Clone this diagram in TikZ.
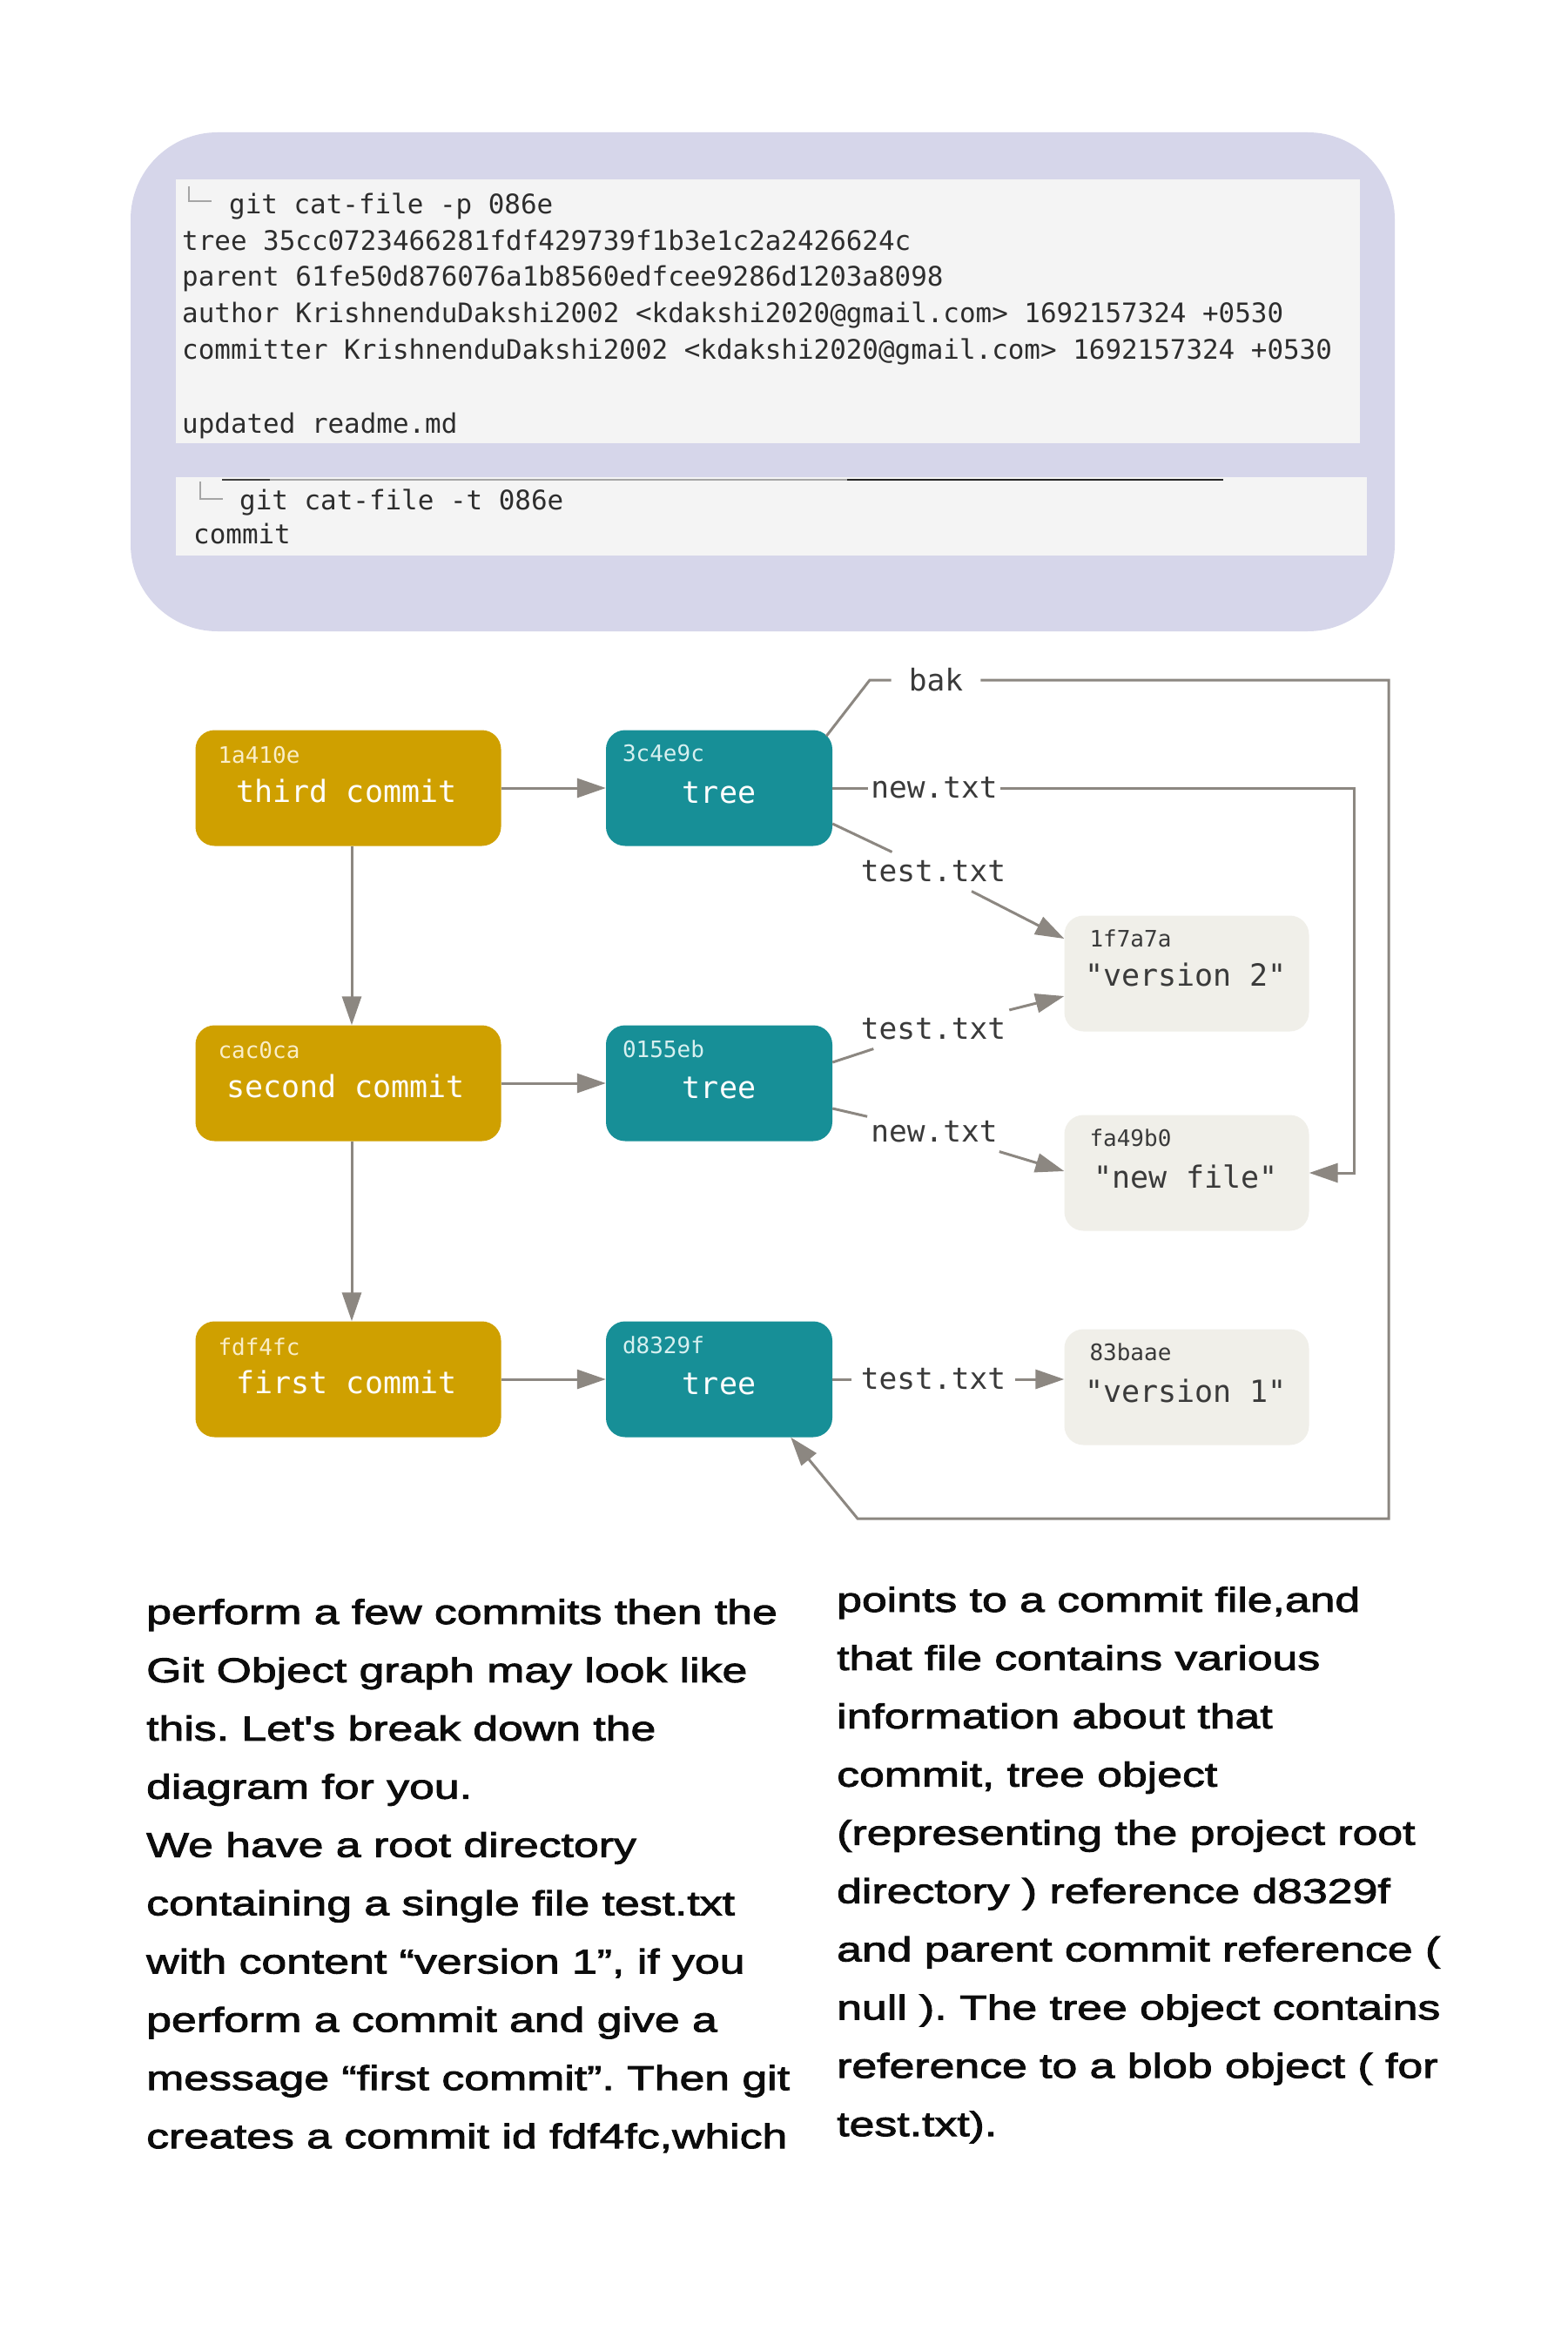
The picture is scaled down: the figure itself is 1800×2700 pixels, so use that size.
\documentclass[tikz,border=0pt]{standalone}
\usepackage{fontspec}
\usetikzlibrary{arrows.meta,calc}
\newfontfamily\codefont{DejaVu Sans Mono}
\newfontfamily\bodyfont[FakeStretch=1.31,FakeBold=2.4]{Liberation Sans}
\definecolor{lav}{RGB}{214,214,234}
\definecolor{panelbg}{RGB}{244,244,244}
\definecolor{codetxt}{RGB}{45,45,45}
\definecolor{cornergray}{RGB}{165,165,165}
\definecolor{gitgold}{RGB}{207,160,0}
\definecolor{gitteal}{RGB}{23,143,151}
\definecolor{blobfill}{RGB}{240,239,233}
\definecolor{linkgray}{RGB}{140,135,129}
\definecolor{labeltxt}{RGB}{58,58,58}
\definecolor{goldhash}{RGB}{250,238,200}
\definecolor{tealhash}{RGB}{215,240,240}
\definecolor{bodytxt}{RGB}{12,12,12}
\tikzset{
  objbox/.style={rounded corners=22pt, minimum height=133pt, inner sep=0pt, draw=none},
  commitbox/.style={objbox, fill=gitgold, minimum width=351pt},
  treebox/.style={objbox, fill=gitteal, minimum width=260pt},
  blobbox/.style={objbox, fill=blobfill, minimum width=281pt},
  hashtxt/.style={anchor=west, inner sep=0pt, font=\codefont\fontsize{26}{30}\selectfont},
  maintxt/.style={inner sep=0pt, font=\codefont\fontsize{35}{40}\selectfont},
  link/.style={draw=linkgray, line width=3pt},
  arr/.style={link, -{Triangle[length=33pt,width=22pt]}},
  lbl/.style={font=\codefont\fontsize{34.5}{40}\selectfont, text=labeltxt, inner xsep=4pt, inner ysep=10pt},
  codeline/.style={anchor=base west, inner sep=0pt, text=codetxt, font=\codefont\fontsize{30.9}{42}\selectfont},
  corner/.style={draw=cornergray, line width=2pt},
  bodyline/.style={anchor=base west, inner sep=0pt, text=bodytxt, font=\bodyfont\frenchspacing\fontsize{39.5}{67}\selectfont}
}
\begin{document}
\begin{tikzpicture}[x=1pt,y=-1pt]
\useasboundingbox (0,0) rectangle (1800,2700);
\fill[white] (0,0) rectangle (1800,2700);

% terminal screenshot
\fill[lav, rounded corners=100pt] (150,152) rectangle (1602,725);
\fill[panelbg] (202,206) rectangle (1562,509);
\fill[panelbg] (202,548) rectangle (1570,638);
\draw[line width=2pt, black!35] (255,551) -- (973,551);
\draw[line width=2.5pt, black!75] (255,551) -- (310,551);
\draw[line width=2.5pt, black!85] (973,551) -- (1405,551);

\draw[corner] (217,214) -- (217,231) -- (243,231);
\node[codeline] (p1) at (263,245) {git cat-file -p 086e};
\node[codeline] (p2) at (209,287) {tree 35cc0723466281fdf429739f1b3e1c2a2426624c};
\node[codeline] (p3) at (209,328.7) {parent 61fe50d876076a1b8560edfcee9286d1203a8098};
\node[codeline] (p4) at (209,370.4) {author KrishnenduDakshi2002 <kdakshi2020@gmail.com> 1692157324 +0530};
\node[codeline] (p5) at (209,412.1) {committer KrishnenduDakshi2002 <kdakshi2020@gmail.com> 1692157324 +0530};
\node[codeline] (p7) at (209,497) {updated readme.md};
\draw[corner] (230,553) -- (230,573) -- (256,573);
\node[codeline] (q1) at (275,585) {git cat-file -t 086e};
\node[codeline] (q2) at (222,624.5) {commit};

% object boxes
\node[commitbox] (c3) at (400,905) {};
\node[commitbox] (c2) at (400,1244) {};
\node[commitbox] (c1) at (400,1584) {};
\node[treebox] (t3) at (826,905) {};
\node[treebox] (t2) at (826,1244) {};
\node[treebox] (t1) at (826,1584) {};
\node[blobbox] (b1) at (1363,1118) {};
\node[blobbox] (b2) at (1363,1347) {};
\node[blobbox] (b3) at (1363,1593) {};

\node[hashtxt, text=goldhash] (hc3) at ($(c3.north west)+(26,29)$) {1a410e};
\node[hashtxt, text=goldhash] (hc2) at ($(c2.north west)+(26,29)$) {cac0ca};
\node[hashtxt, text=goldhash] (hc1) at ($(c1.north west)+(26,29)$) {fdf4fc};
\node[maintxt, text=white] (mc3) at ($(c3.center)+(-2,3)$) {third commit};
\node[maintxt, text=white] (mc2) at ($(c2.center)+(-3,3)$) {second commit};
\node[maintxt, text=white] (mc1) at ($(c1.center)+(-2,3)$) {first commit};

\node[hashtxt, text=tealhash] (ht3) at ($(t3.north west)+(19,27)$) {3c4e9c};
\node[hashtxt, text=tealhash] (ht2) at ($(t2.north west)+(19,27)$) {0155eb};
\node[hashtxt, text=tealhash] (ht1) at ($(t1.north west)+(19,27)$) {d8329f};
\node[maintxt, text=white] (mt3) at ($(t3.center)+(0,5)$) {tree};
\node[maintxt, text=white] (mt2) at ($(t2.center)+(0,5)$) {tree};
\node[maintxt, text=white] (mt1) at ($(t1.center)+(0,5)$) {tree};

\node[hashtxt, text=labeltxt] (hb1) at ($(b1.north west)+(29,26)$) {1f7a7a};
\node[hashtxt, text=labeltxt] (hb2) at ($(b2.north west)+(29,26)$) {fa49b0};
\node[hashtxt, text=labeltxt] (hb3) at ($(b3.north west)+(29,26)$) {83baae};
\node[maintxt, text=labeltxt] (mb1) at ($(b1.center)+(-1,1)$) {"version 2"};
\node[maintxt, text=labeltxt] (mb2) at ($(b2.center)+(-1,4)$) {"new file"};
\node[maintxt, text=labeltxt] (mb3) at ($(b3.center)+(-1,4)$) {"version 1"};

% edge labels
\node[lbl, inner xsep=20pt] (lbak) at (1075,781) {bak};
\node[lbl, inner xsep=3pt] (lnew3) at (1073,905) {new.txt};
\node[lbl] (ltest3) at (1072,1001) {test.txt};
\node[lbl] (ltest2) at (1072,1182) {test.txt};
\node[lbl] (lnew2) at (1073,1300) {new.txt};
\node[lbl, inner xsep=11pt] (ltest1) at (1072,1584) {test.txt};

% connectors
\draw[arr] (c3) -- (t3);
\draw[arr] (c2) -- (t2);
\draw[arr] (c1) -- (t1);
\draw[arr] ([xshift=4pt]c3.south) -- ([xshift=4pt]c2.north);
\draw[arr] ([xshift=4pt]c2.south) -- ([xshift=4pt]c1.north);

\coordinate (bakbend) at (999,781);
\coordinate (bakB) at (1595,1744);
\coordinate (bakL) at (985,1744);
\draw[link] ($(t3.north east)+(-7,7)$) -- (bakbend) -- (lbak.west);
\draw[arr] (lbak.east) -| (bakB) -- (bakL) -- ($(t1.south east)+(-48,0)$);

\coordinate (newR) at (1555,1347);
\draw[link] (t3.east) -- (lnew3.west);
\draw[arr] (lnew3.east) -| (newR) -- (b2.east);

\draw[link] ($(t3.east)+(0,41)$) -- (ltest3);
\draw[arr] (ltest3) -- ($(b1.west)+(0,-40)$);

\draw[link] ($(t2.east)+(0,-24)$) -- (ltest2);
\draw[arr] (ltest2) -- ($(b1.west)+(0,26)$);
\draw[link] ($(t2.east)+(0,29)$) -- (lnew2);
\draw[arr] (lnew2) -- ($(b2.west)+(0,-2)$);

\draw[link] (t1.east) -- (ltest1.west);
\draw[arr] (ltest1.east) -- (ltest1.east -| b3.west);

% body text, left column
\node[bodyline] (a1) at (168,1865) {perform a few commits then the};
\node[bodyline] (a2) at (168,1931.9) {Git Object graph may look like};
\node[bodyline] (a3) at (168,1998.8) {this. Let's break down the};
\node[bodyline] (a4) at (168,2065.7) {diagram for you.};
\node[bodyline] (a5) at (168,2132.6) {We have a root directory};
\node[bodyline] (a6) at (168,2199.5) {containing a single file test.txt};
\node[bodyline] (a7) at (168,2266.4) {with content “version 1”, if you};
\node[bodyline] (a8) at (168,2333.3) {perform a commit and give a};
\node[bodyline] (a9) at (168,2400.2) {message “first commit”. Then git};
\node[bodyline] (a10) at (168,2467.1) {creates a commit id fdf4fc,which};
% right column
\node[bodyline] (r1) at (961,1851) {points to a commit file,and};
\node[bodyline] (r2) at (961,1917.9) {that file contains various};
\node[bodyline] (r3) at (961,1984.8) {information about that};
\node[bodyline] (r4) at (961,2051.7) {commit, tree object};
\node[bodyline] (r5) at (961,2118.6) {(representing the project root};
\node[bodyline] (r6) at (961,2185.5) {directory ) reference d8329f};
\node[bodyline] (r7) at (961,2252.4) {and parent commit reference (};
\node[bodyline] (r8) at (961,2319.3) {null ). The tree object contains};
\node[bodyline] (r9) at (961,2386.2) {reference to a blob object ( for};
\node[bodyline] (r10) at (961,2453.1) {test.txt).};
\end{tikzpicture}
\end{document}
